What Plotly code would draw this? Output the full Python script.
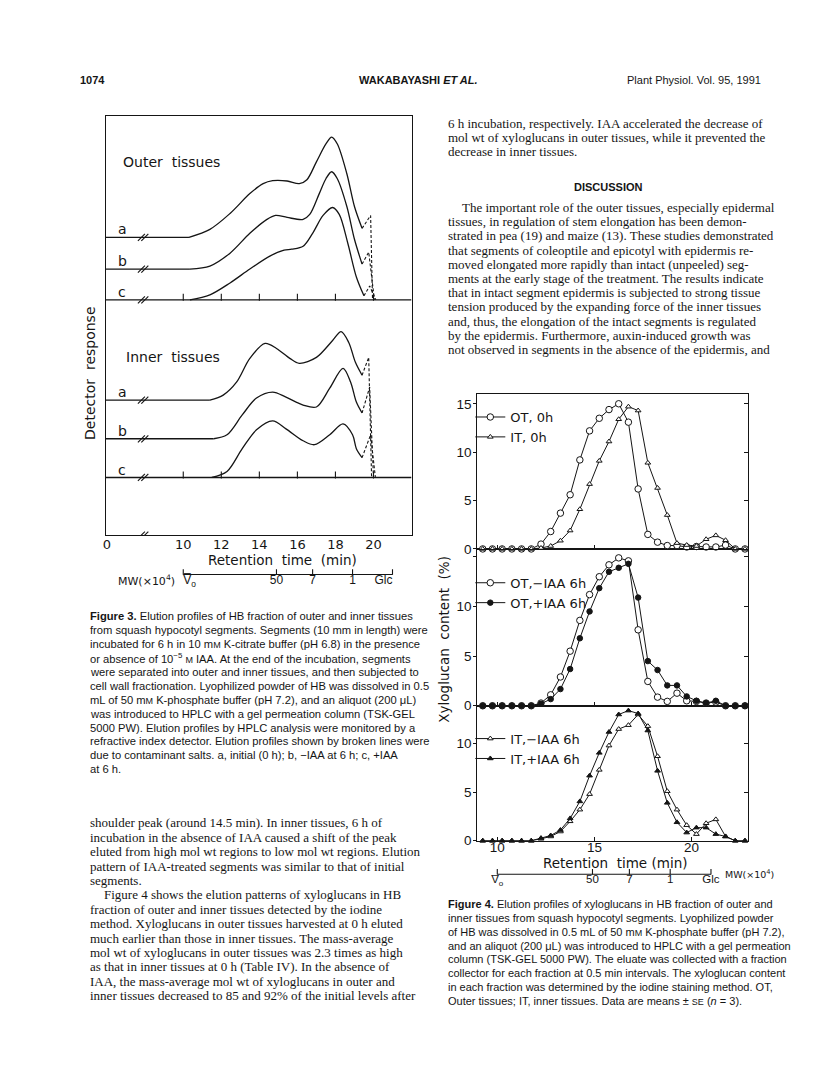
import plotly.graph_objects as go

W, H = 816, 1073
def fx(p): return p / W
def fy(p): return 1 - p / H

INK = "#151515"
FIGFONT = "DejaVu Sans"

# ================= Figure 3 data =================
# retention time (min) and detector response above each trace's own baseline (arbitrary units)
f3_oa_t = [10.3, 11.4, 12.46, 13.5, 14.2, 14.7, 15.46, 16.1, 16.5, 17.0, 17.5, 17.8, 18.1, 18.6, 19.0, 19.4]
f3_oa_r = [0, 8, 24, 44, 54, 57, 56.7, 54, 58, 76, 94, 101, 94, 64, 31, 9]
f3_ob_t = [10.35, 11.4, 12.46, 13.5, 14.4, 14.85, 15.46, 16.3, 16.65, 17.15, 17.5, 17.8, 18.1, 18.6, 19.0, 19.4]
f3_ob_r = [0, 3, 16, 36, 50, 54, 52, 50, 55, 76, 91, 98, 91, 63, 30, 5]
f3_oc_t = [10.35, 11.4, 12.46, 13.5, 14.55, 15.3, 15.7, 16.3, 16.8, 17.35, 17.85, 18.2, 18.65, 19.1, 19.5]
f3_oc_r = [0, 5, 17, 31, 44, 50, 51, 54, 67, 85, 93, 86, 57, 23, 4]
f3_ia_t = [11.4, 12.1, 12.8, 13.5, 14.3, 14.9, 15.6, 16.1, 17.0, 17.85, 18.3, 18.7, 19.05, 19.4]
f3_ia_r = [0, 5, 18, 42, 57, 52, 42, 37, 43, 60, 69, 58, 38, 25]
f3_ib_t = [11.6, 12.3, 13.1, 13.85, 14.7, 15.4, 16.3, 17.0, 17.7, 18.4, 18.8, 19.1, 19.4]
f3_ib_r = [0, 4, 24, 41, 47, 42, 34, 32, 51, 71, 57, 37, 26]
f3_ic_t = [11.5, 12.3, 13.1, 13.85, 14.7, 15.4, 16.3, 16.9, 17.7, 18.4, 18.9, 19.1, 19.4]
f3_ic_r = [0, 6, 29, 48, 57, 49, 37, 33, 43, 54, 43, 29, 20]
# contaminant-salt (broken line) peaks: [start, peak] ; each then falls to the group floor at the end time
f3_salt_t = {"oa": [19.4, 19.85], "ob": [19.4, 19.75], "oc": [19.5, 19.8],
             "ia": [19.4, 19.75], "ib": [19.4, 19.8], "ic": [19.4, 19.85]}
f3_salt_r = {"oa": [9, 22], "ob": [5, 17], "oc": [4, 14],
             "ia": [25, 43], "ib": [26, 52], "ic": [20, 43]}
f3_salt_end = {"oa": 19.95, "ob": 20.05, "oc": 20.12, "ia": 19.9, "ib": 20.0, "ic": 20.1}
f3_ticks = [10, 12, 14, 16, 18, 20]

# ================= Figure 4 data =================
t4 = [9.25, 9.75, 10.25, 10.75, 11.25, 11.75, 12.25, 12.75, 13.25, 13.75, 14.25, 14.75, 15.25, 15.75,
      16.25, 16.75, 17.25, 17.75, 18.25, 18.75, 19.25, 19.75, 20.25, 20.75, 21.25, 21.75, 22.25, 22.75]
ot_0h = [0, 0, 0, 0, 0, 0, 0.5, 1.8, 3.7, 5.6, 9.2, 12.2, 13.5, 14.4, 15.0, 13.1, 6.2, 1.5, 0.7, 0.35,
         0.35, 0.2, 0.25, 0.2, 0.2, 0.4, 0, 0]
it_0h = [0, 0, 0, 0, 0, 0, 0.1, 0.3, 0.85, 1.9, 4.1, 6.7, 9.1, 11.1, 13.4, 14.7, 14.3, 8.9, 6.3, 3.5,
         0.6, 0.4, 0.3, 1.0, 1.4, 0.9, 0, 0]
ot_minus = [0, 0, 0, 0, 0, 0, 0.27, 1.1, 2.9, 5.5, 8.6, 11.2, 13.0, 14.2, 14.9, 14.6, 7.65, 2.45, 0.87,
            0.44, 1.27, 0.5, 0.44, 0.27, 0.37, 0, 0, 0]
ot_plus = [0, 0, 0, 0, 0, 0, 0.2, 0.67, 1.68, 3.7, 6.8, 9.5, 11.85, 13.5, 13.9, 14.3, 10.9, 4.5, 3.6,
           2.05, 2.05, 0.94, 0.5, 0.27, 0.5, 0, 0, 0]
it_minus = [0, 0, 0, 0, 0, 0, 0.2, 0.44, 0.95, 2.0, 3.2, 4.8, 7.3, 9.8, 11.5, 11.9, 13.0, 11.8, 8.7,
            5.1, 3.2, 1.6, 0.68, 1.8, 2.2, 0.44, 0, 0]
it_plus = [0, 0, 0, 0, 0, 0, 0.27, 0.54, 1.1, 2.3, 4.05, 6.7, 9.05, 11.2, 13.0, 13.4, 13.1, 11.35, 7.2,
           3.9, 1.9, 0.84, 1.35, 1.35, 0.68, 0.44, 0, 0]
f4_xticks = [10, 15, 20]

# molecular-weight markers (retention time, label)
mw_t = [10.0, 14.9, 16.8, 18.9, 21.0]
mw_lab = ["V\u0305<sub>o</sub>", "50", "7", "1", "Glc"]

# ================= layout constants =================
F3_X0, F3_X1 = 5.92, 22.0
F3_Y = [0, 422]
OFF = {"oa": 300, "ob": 268, "oc": 237, "ia": 136, "ib": 97, "ic": 58}
FLOOR = {"o": 237, "i": 58}

fig = go.Figure()

def line(x, y, xa="x", ya="y", dash="solid", shape="linear", w=1.3):
    fig.add_trace(go.Scatter(x=x, y=y, xaxis=xa, yaxis=ya, mode="lines", showlegend=False,
                             line=dict(color=INK, width=w, dash=dash, shape=shape, smoothing=0.9),
                             hoverinfo="skip"))

curves = {"oa": (f3_oa_t, f3_oa_r), "ob": (f3_ob_t, f3_ob_r), "oc": (f3_oc_t, f3_oc_r),
          "ia": (f3_ia_t, f3_ia_r), "ib": (f3_ib_t, f3_ib_r), "ic": (f3_ic_t, f3_ic_r)}
for k, (tt, rr) in curves.items():
    off = OFF[k]
    if k in ("oc", "ic"):
        line([F3_X0, F3_X1], [off, off])
    else:
        line([F3_X0, tt[0]], [off, off])
    line(tt, [off + r for r in rr], shape="spline")
    st = f3_salt_t[k] + [f3_salt_end[k]]
    sr = [off + r for r in f3_salt_r[k]] + [FLOOR[k[0]]]
    line(st, sr, dash="3px,2px", w=1.1)

# axis breaks "//"
brk_y = [OFF[k] for k in OFF] + [0]
for bx in (7.80, 7.98):
    fig.add_trace(go.Scatter(x=[bx] * len(brk_y), y=brk_y, mode="markers", showlegend=False,
                             marker=dict(symbol="line-ne", size=7, line=dict(width=1.1, color=INK)),
                             hoverinfo="skip"))
# tick marks on the two full-width baselines
for k in ("oc", "ic"):
    fig.add_trace(go.Scatter(x=f3_ticks, y=[OFF[k] + 2.5] * len(f3_ticks), mode="markers",
                             showlegend=False, hoverinfo="skip",
                             marker=dict(symbol="line-ns", size=5, line=dict(width=1.1, color=INK))))
# curve letters
for k, lab in (("oa", "a"), ("ob", "b"), ("oc", "c"), ("ia", "a"), ("ib", "b"), ("ic", "c")):
    fig.add_annotation(x=6.8, y=OFF[k] + 8, xref="x", yref="y", text=lab, showarrow=False,
                       font=dict(family=FIGFONT, size=14, color=INK))

# MW scale
def mw_scale(xa, ya, positions, size):
    line([mw_t[0], mw_t[-1]], [0.65, 0.65], xa=xa, ya=ya, w=1.1)
    fig.add_trace(go.Scatter(x=mw_t, y=[0.76] * len(mw_t), xaxis=xa, yaxis=ya, mode="markers",
                             showlegend=False, hoverinfo="skip",
                             marker=dict(symbol="line-ns", size=4, line=dict(width=1.1, color=INK))))
    fig.add_trace(go.Scatter(x=mw_t, y=[0.62] * len(mw_t), xaxis=xa, yaxis=ya, mode="text",
                             text=mw_lab, textposition=positions, showlegend=False, hoverinfo="skip",
                             textfont=dict(family="Liberation Sans", size=size, color=INK)))

mw_scale("x", "y6", ["bottom right", "bottom center", "bottom center", "bottom center", "bottom left"], 12)

# ================= Figure 4 traces =================
def series(y, ya, xa, name, symbol, fill, size, legend):
    fig.add_trace(go.Scatter(x=t4, y=y, xaxis=xa, yaxis=ya, mode="lines+markers", name=name,
                             legend=legend, cliponaxis=False,
                             line=dict(color=INK, width=1),
                             marker=dict(symbol=symbol, size=size, color=fill,
                                         line=dict(color=INK, width=1))))

series(ot_0h, "y4", "x4", "OT, 0h", "circle", "white", 6.5, "legend")
series(it_0h, "y4", "x4", "IT, 0h", "triangle-up", "white", 5, "legend")
series(ot_minus, "y3", "x3", "OT,\u2212IAA 6h", "circle", "white", 6.5, "legend2")
series(ot_plus, "y3", "x3", "OT,+IAA 6h", "circle", INK, 5.5, "legend2")
series(it_minus, "y2", "x2", "IT,\u2212IAA 6h", "triangle-up", "white", 5, "legend3")
series(it_plus, "y2", "x2", "IT,+IAA 6h", "triangle-up", INK, 5, "legend3")
# invisible traces to create right-side tick axes
for ya, xa in (("y5", "x4"), ("y8", "x3"), ("y9", "x2")):
    fig.add_trace(go.Scatter(x=[None], y=[None], xaxis=xa, yaxis=ya, showlegend=False))

mw_scale("x2", "y7", ["bottom center"] * 5, 11.5)

# ================= axes =================
axfont = dict(family=FIGFONT, size=13, color=INK)
numfont = dict(family="Liberation Sans", size=13.5, color=INK)
common = dict(showgrid=False, zeroline=False, linecolor=INK, linewidth=1.3)

P4 = {"y4": (545, 389, 16.0), "y3": (703, 545, 15.8), "y2": (839, 703, 13.9)}
F4X = [8.97, 22.92]

fig.update_layout(
    width=W, height=H, margin=dict(l=0, r=0, t=0, b=0),
    paper_bgcolor="white", plot_bgcolor="white",
    font=dict(family=FIGFONT, color=INK),
    xaxis=dict(domain=[fx(95), fx(402)], range=[F3_X0, F3_X1], anchor="y", showline=True, mirror=True,
               tickvals=[5.99] + f3_ticks, ticktext=["0"] + [str(v) for v in f3_ticks],
               ticks="", tickfont=axfont, ticklabelstandoff=-3, **common),
    yaxis=dict(domain=[fy(531), fy(109)], range=F3_Y, anchor="x", showline=True, mirror=True,
               showticklabels=False, ticks="", **common),
    yaxis6=dict(domain=[fy(585), fy(563)], range=[0, 1], anchor="x", visible=False),
    xaxis2=dict(domain=[fx(468), fx(740)], range=F4X, anchor="y2", showline=True, mirror=True,
                tickvals=f4_xticks, ticks="inside", ticklen=4, tickwidth=1.1, tickcolor=INK,
                tickfont=numfont, ticklabelstandoff=-6, **common),
    xaxis3=dict(domain=[fx(468), fx(740)], range=F4X, anchor="y3", matches="x2", showline=True,
                mirror=True, tickvals=f4_xticks, ticks="inside", ticklen=4, tickwidth=1.1,
                tickcolor=INK, showticklabels=False, **common),
    xaxis4=dict(domain=[fx(468), fx(740)], range=F4X, anchor="y4", matches="x2", showline=True,
                mirror=True, tickvals=f4_xticks, ticks="inside", ticklen=4, tickwidth=1.1,
                tickcolor=INK, showticklabels=False, **common),
    yaxis7=dict(domain=[fy(887), fy(865)], range=[0, 1], anchor="x2", visible=False),
)
for ya, (b, t, top) in P4.items():
    vals = [0, 5, 10, 15] if top > 15 else [0, 5, 10]
    txt_ = [str(v) for v in vals]
    if ya == "y3":
        txt_ = ["0", "5", "10", " "]
    xa = {"y4": "x4", "y3": "x3", "y2": "x2"}[ya]
    fig.layout[ya.replace("y", "yaxis")] = dict(
        domain=[fy(b), fy(t)], range=[0, top], anchor=xa, showline=True, mirror=True,
        tickvals=vals, ticktext=txt_, ticks="outside", ticklen=3, tickwidth=1.1, tickcolor=INK,
        tickfont=numfont, ticklabelstandoff=-1, **common)
for ya, base in (("yaxis5", "y4"), ("yaxis8", "y3"), ("yaxis9", "y2")):
    b, t, top = P4[base]
    fig.layout[ya] = dict(overlaying=base, side="right", anchor={"y4": "x4", "y3": "x3", "y2": "x2"}[base],
                          range=[0, top], tickvals=[v for v in (5, 10, 15) if v < top],
                          ticks="inside", ticklen=4, tickwidth=1.1, tickcolor=INK,
                          showticklabels=False, showgrid=False, zeroline=False, showline=False)

legfont = dict(family=FIGFONT, size=13, color=INK)
fig.update_layout(
    legend=dict(x=fx(461), y=fy(397), xanchor="left", yanchor="top", bgcolor="rgba(0,0,0,0)",
                font=legfont, itemwidth=30, tracegroupgap=0),
    legend2=dict(x=fx(461), y=fy(564), xanchor="left", yanchor="top", bgcolor="rgba(0,0,0,0)",
                 font=legfont, itemwidth=30, tracegroupgap=0),
    legend3=dict(x=fx(461), y=fy(721), xanchor="left", yanchor="top", bgcolor="rgba(0,0,0,0)",
                 font=legfont, itemwidth=30, tracegroupgap=0),
)

# ================= text =================
def txt(x, y, s, size=13, family="Liberation Serif", anchor="left", angle=0, color=INK):
    fig.add_annotation(x=fx(x), y=fy(y), xref="paper", yref="paper", text=s, showarrow=False,
                       xanchor=anchor, yanchor="middle", textangle=angle,
                       font=dict(family=family, size=size, color=color))

SANS = "Liberation Sans"
# figure lettering
txt(110, 155, "Outer  tissues", 14, FIGFONT)
txt(113, 352, "Inner  tissues", 14, FIGFONT)
txt(80, 368, "Detector  response", 14, FIGFONT, "center", -90)
txt(273, 556, "Retention  time  (min)", 13.5, FIGFONT, "center")
txt(105, 577, "MW(\u00d710<sup>4</sup>)", 11, FIGFONT)
txt(606, 861, "Retention  time (min)", 13.5, FIGFONT, "center")
txt(715, 873, "MW(\u00d710<sup>4</sup>)", 9.5, FIGFONT)
txt(435, 636, "Xyloglucan  content  (%)", 13.5, FIGFONT, "center", -90)

# running header
txt(67, 73, "<b>1074</b>", 11, SANS)
txt(409, 73, "<b>WAKABAYASHI <i>ET AL.</i></b>", 11, SANS, "center")
txt(755, 73, "Plant Physiol. Vol. 95, 1991", 11, SANS, "right")

sc = lambda s: "<span style='font-size:9px'>" + s + "</span>"

right_top = [
    "6 h incubation, respectively. IAA accelerated the decrease of",
    "mol wt of xyloglucans in outer tissues, while it prevented the",
    "decrease in inner tissues.",
]
for i, s in enumerate(right_top):
    txt(437, 116 + i * 14.5, s)
txt(600, 180, "<b>DISCUSSION</b>", 11, SANS, "center")
discussion = [
    "The important role of the outer tissues, especially epidermal",
    "tissues, in regulation of stem elongation has been demon-",
    "strated in pea (19) and maize (13). These studies demonstrated",
    "that segments of coleoptile and epicotyl with epidermis re-",
    "moved elongated more rapidly than intact (unpeeled) seg-",
    "ments at the early stage of the treatment. The results indicate",
    "that in intact segment epidermis is subjected to strong tissue",
    "tension produced by the expanding force of the inner tissues",
    "and, thus, the elongation of the intact segments is regulated",
    "by the epidermis. Furthermore, auxin-induced growth was",
    "not observed in segments in the absence of the epidermis, and",
]
for i, s in enumerate(discussion):
    txt(451 if i == 0 else 437, 201 + i * 14.3, s)

cap3 = [
    "<b>Figure 3.</b> Elution profiles of HB fraction of outer and inner tissues",
    "from squash hypocotyl segments. Segments (10 mm in length) were",
    "incubated for 6 h in 10 m" + sc("M") + " K-citrate buffer (pH 6.8) in the presence",
    "or absence of 10<sup>\u22125</sup> " + sc("M") + " IAA. At the end of the incubation, segments",
    "were separated into outer and inner tissues, and then subjected to",
    "cell wall fractionation. Lyophilized powder of HB was dissolved in 0.5",
    "mL of 50 m" + sc("M") + " K-phosphate buffer (pH 7.2), and an aliquot (200 \u03bcL)",
    "was introduced to HPLC with a gel permeation column (TSK-GEL",
    "5000 PW). Elution profiles by HPLC analysis were monitored by a",
    "refractive index detector. Elution profiles shown by broken lines were",
    "due to contaminant salts. a, initial (0 h); b, \u2212IAA at 6 h; c, +IAA",
    "at 6 h.",
]
for i, s in enumerate(cap3):
    txt(77, 613 + i * 14.0, s, 11.2, SANS)

left_body = [
    "shoulder peak (around 14.5 min). In inner tissues, 6 h of",
    "incubation in the absence of IAA caused a shift of the peak",
    "eluted from high mol wt regions to low mol wt regions. Elution",
    "pattern of IAA-treated segments was similar to that of initial",
    "segments.",
    "Figure 4 shows the elution patterns of xyloglucans in HB",
    "fraction of outer and inner tissues detected by the iodine",
    "method. Xyloglucans in outer tissues harvested at 0 h eluted",
    "much earlier than those in inner tissues. The mass-average",
    "mol wt of xyloglucans in outer tissues was 2.3 times as high",
    "as that in inner tissues at 0 h (Table IV). In the absence of",
    "IAA, the mass-average mol wt of xyloglucans in outer and",
    "inner tissues decreased to 85 and 92% of the initial levels after",
]
for i, s in enumerate(left_body):
    txt(91 if i == 5 else 77, 821 + i * 14.5, s)

cap4 = [
    "<b>Figure 4.</b> Elution profiles of xyloglucans in HB fraction of outer and",
    "inner tissues from squash hypocotyl segments. Lyophilized powder",
    "of HB was dissolved in 0.5 mL of 50 m" + sc("M") + " K-phosphate buffer (pH 7.2),",
    "and an aliquot (200 \u03bcL) was introduced to HPLC with a gel permeation",
    "column (TSK-GEL 5000 PW). The eluate was collected with a fraction",
    "collector for each fraction at 0.5 min intervals. The xyloglucan content",
    "in each fraction was determined by the iodine staining method. OT,",
    "Outer tissues; IT, inner tissues. Data are means \u00b1 " + sc("SE") + " (<i>n</i> = 3).",
]
for i, s in enumerate(cap4):
    txt(437, 903 + i * 13.9, s, 11.0, SANS)

fig.write_html("out.html")
